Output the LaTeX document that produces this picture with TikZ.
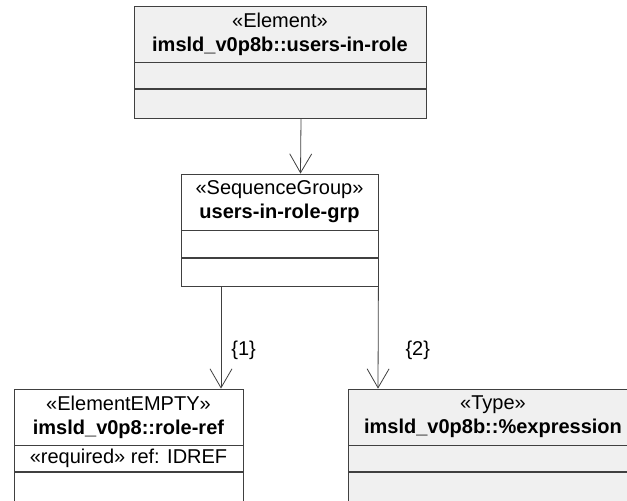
\documentclass[tikz,border=0pt]{standalone}
\usepackage{fontspec}
\setmainfont{Liberation Sans}
\usetikzlibrary{positioning,arrows.meta}
\definecolor{umlgray}{HTML}{F0F0F0}
\definecolor{umlline}{HTML}{404040}

\begin{document}
\begin{tikzpicture}[x=1pt, y=-1pt,
    head/.style={draw=umlline, line width=0.8pt, fill=white, align=center,
                 minimum height=56pt, inner sep=0pt, font=\fontsize{20}{24}\selectfont},
    comp/.style={draw=umlline, line width=0.8pt, fill=white, inner sep=0pt,
                 font=\fontsize{20}{24}\selectfont},
    shaded/.style={fill=umlgray},
    assoc/.style={-{Straight Barb[length=19pt, width=22pt]}, draw=umlline, line width=0.8pt},
    mult/.style={inner sep=0pt, font=\fontsize{20}{24}\selectfont}
  ]
    \useasboundingbox (0,0) rectangle (627,501);

    \node[head, shaded, minimum width=292pt] (users) at (280,34)
      {«Element»\\\textbf{imsld\_v0p8b::users-in-role}};
    \node[comp, shaded, minimum width=292pt, minimum height=26pt, below=0pt of users] (users-a) {};
    \node[comp, shaded, minimum width=292pt, minimum height=29pt, below=0pt of users-a] (users-o) {};

    \node[head, minimum width=197pt] (grp) at (279.5,202)
      {«SequenceGroup»\\\textbf{users-in-role-grp}};
    \node[comp, minimum width=197pt, minimum height=27pt, below=0pt of grp] (grp-a) {};
    \node[comp, minimum width=197pt, minimum height=28pt, below=0pt of grp-a] (grp-o) {};

    \node[head, minimum width=229pt] (rref) at (128.5,417)
      {«ElementEMPTY»\\\textbf{imsld\_v0p8::role-ref}};
    \node[comp, minimum width=229pt, minimum height=26pt, below=0pt of rref] (rref-a)
      {«required» ref: IDREF};
    \node[comp, minimum width=229pt, minimum height=30pt, below=0pt of rref-a] (rref-o) {};

    \node[head, shaded, minimum width=290pt] (expr) at (493,417)
      {«Type»\\\textbf{imsld\_v0p8b::\%expression}};
    \node[comp, shaded, minimum width=290pt, minimum height=26pt, below=0pt of expr] (expr-a) {};
    \node[comp, shaded, minimum width=290pt, minimum height=30pt, below=0pt of expr-a] (expr-o) {};

    \draw[assoc] ([xshift=21pt]users-o.south) -- ([xshift=21pt]grp.north);
    \draw[assoc] ([xshift=-58.5pt]grp-o.south) -- ([xshift=92.5pt]rref.north)
      node[mult, pos=0.62, right=10pt] (m1) {\{1\}};
    \draw[assoc] (grp-o.south east) -- ([xshift=-115pt]expr.north)
      node[mult, pos=0.62, right=27pt] (m2) {\{2\}};
  \end{tikzpicture}
\end{document}
